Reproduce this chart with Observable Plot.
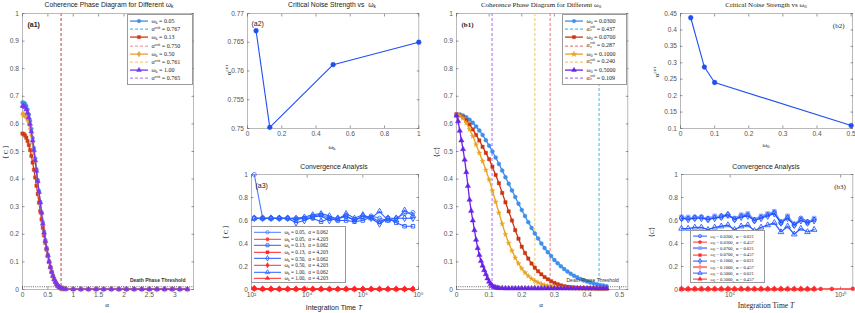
<!DOCTYPE html>
<html><head><meta charset="utf-8">
<script src="https://cdn.jsdelivr.net/npm/d3@7"></script>
<script src="https://cdn.jsdelivr.net/npm/@observablehq/plot@0.6"></script>
<style>
body{margin:0;background:#fff;}
#wrap{position:relative;width:855px;height:313px;overflow:hidden;background:#fff;font-family:"Liberation Sans",Arial,sans-serif;}
.t{position:absolute;white-space:nowrap;color:#222;line-height:1;}
.t sub,.lg sub{font-size:70%;vertical-align:-0.3em;line-height:0;}
.t sup,.lg sup{font-size:70%;vertical-align:0.5em;line-height:0;}
.lg{position:absolute;background:#fff;border:0.8px solid #9a9a9a;box-sizing:border-box;font-family:"Liberation Serif","DejaVu Serif",serif;color:#222;}
.lg .row{display:flex;align-items:center;white-space:nowrap;}
.lg svg{flex:none;}
.st{display:inline-flex;flex-direction:column;font-size:62%;line-height:0.95;vertical-align:middle;margin-left:0.5px;}
</style></head>
<body><div id="wrap"></div>
<script>
// ---------------- DATA ----------------
// (a1) coherence vs alpha for different omega_k
const a1Alpha = [0,0.025,0.05,0.075,0.1,0.125,0.15,0.175,0.2,0.225,0.25,0.275,0.3,0.325,0.35,0.375,0.4,0.425,0.45,0.475,0.5,0.525,0.55,0.575,0.6,0.625,0.65,0.675,0.7,0.725,0.75,0.775,0.8,
  0.85,1.0,1.15,1.3,1.45,1.6,1.75,1.9,2.05,2.2,2.35,2.5,2.65,2.8,2.95,3.1,3.25];
const a1Tail = [0.002,0.001,0.001,0.001,0.001,0.001,0.001,0.001,0.001,0.001,0.001,0.001,0.001,0.001,0.001,0.001,0.001];
const a1C005 = [0.678,0.677,0.673,0.665,0.652,0.634,0.611,0.582,0.549,0.513,0.475,0.436,0.397,0.357,0.318,0.280,0.244,0.211,0.180,0.152,0.126,0.103,0.083,0.065,0.050,0.037,0.027,0.019,0.013,0.009,0.006,0.004,0.003].concat(a1Tail);
const a1C013 = [0.565,0.563,0.558,0.550,0.538,0.523,0.505,0.484,0.460,0.434,0.406,0.376,0.346,0.315,0.284,0.254,0.224,0.196,0.169,0.144,0.121,0.099,0.080,0.063,0.048,0.036,0.026,0.018,0.012,0.008,0.005,0.004,0.003].concat(a1Tail);
const a1C050 = [0.635,0.634,0.630,0.624,0.614,0.600,0.582,0.559,0.531,0.499,0.464,0.427,0.389,0.350,0.312,0.275,0.240,0.207,0.177,0.149,0.124,0.101,0.081,0.064,0.049,0.036,0.026,0.018,0.012,0.008,0.005,0.004,0.003].concat(a1Tail);
const a1C100 = [0.665,0.664,0.660,0.652,0.640,0.623,0.600,0.572,0.540,0.505,0.468,0.430,0.392,0.353,0.315,0.278,0.238,0.206,0.176,0.149,0.124,0.101,0.081,0.064,0.049,0.037,0.027,0.019,0.013,0.009,0.006,0.004,0.003].concat(a1Tail);
const a1OmegaK = ["0.05","0.13","0.50","1.00"];
const a1Crit = [0.767,0.750,0.761,0.765];
const deathThreshold = 0.01;

// (a2) critical noise vs omega_k
const a2Omega = [0.05,0.13,0.5,1.0];
const a2Crit = [0.767,0.7502,0.7611,0.765];

// (a3) convergence
const a3T = [126,251,501,1000,1995,3981,7943,15849,31623,63096,125893,251189,501187,1000000,1995262,3981072,7943282,15848932,31622777,63095734];
const a3B1 = [1.00,0.62,0.62,0.62,0.62,0.62,0.62,0.64,0.65,0.62,0.62,0.63,0.61,0.62,0.64,0.62,0.60,0.62,0.66,0.67];
const a3R1 = [0.010,0.005,0.004,0.004,0.004,0.004,0.004,0.004,0.004,0.004,0.004,0.004,0.004,0.004,0.004,0.004,0.004,0.004,0.004,0.004];
const a3B2 = [0.62,0.62,0.62,0.62,0.62,0.61,0.62,0.62,0.59,0.62,0.60,0.60,0.59,0.60,0.63,0.59,0.62,0.58,0.55,0.55];
const a3R2 = [0.008,0.004,0.004,0.003,0.003,0.003,0.003,0.003,0.003,0.003,0.003,0.003,0.003,0.003,0.003,0.003,0.003,0.003,0.003,0.003];
const a3B3 = [0.62,0.62,0.62,0.62,0.62,0.58,0.60,0.63,0.64,0.60,0.62,0.64,0.60,0.64,0.62,0.57,0.62,0.62,0.62,0.62];
const a3R3 = [0.009,0.005,0.004,0.004,0.004,0.004,0.004,0.004,0.004,0.004,0.004,0.004,0.004,0.004,0.004,0.004,0.004,0.004,0.004,0.004];
const a3B4 = [0.62,0.62,0.62,0.62,0.62,0.62,0.63,0.65,0.66,0.64,0.61,0.66,0.62,0.65,0.62,0.68,0.60,0.60,0.69,0.64];
const a3R4 = [0.010,0.005,0.005,0.004,0.004,0.004,0.004,0.004,0.004,0.004,0.004,0.004,0.004,0.004,0.004,0.004,0.004,0.004,0.004,0.004];
const a3Alpha = ["0.062","4.203"];

// (b1) coherence vs alpha for different omega_0
const b1Alpha = [0,0.01,0.02,0.03,0.04,0.05,0.06,0.07,0.08,0.09,0.1,0.11,0.12,0.13,0.14,0.15,0.16,0.17,0.18,0.19,0.2,0.21,0.22,0.23,0.24,0.25,0.26,0.27,0.28,0.29,0.3,0.31,0.32,0.33,0.34,0.35,0.36,0.37,0.38,0.39,0.4,0.41,0.42,0.43,0.44,0.45,0.46];
const b1C003 = [0.635,0.634,0.630,0.624,0.615,0.604,0.591,0.576,0.560,0.541,0.521,0.500,0.478,0.455,0.431,0.407,0.383,0.359,0.335,0.311,0.288,0.266,0.244,0.223,0.203,0.185,0.167,0.150,0.135,0.121,0.107,0.095,0.084,0.074,0.065,0.057,0.050,0.044,0.038,0.033,0.029,0.025,0.022,0.019,0.016,0.014,0.012];
const b1C007 = [0.635,0.632,0.625,0.613,0.598,0.580,0.560,0.540,0.517,0.495,0.472,0.445,0.415,0.385,0.350,0.316,0.283,0.250,0.215,0.184,0.155,0.132,0.112,0.094,0.079,0.066,0.055,0.045,0.037,0.030,0.024,0.019,0.015,0.012,0.010,0.008,0.007,0.006,0.005,0.005,0.004,0.004,0.004,0.003,0.003,0.003,0.003];
const b1C010 = [0.635,0.630,0.620,0.603,0.580,0.555,0.525,0.495,0.465,0.433,0.398,0.358,0.318,0.278,0.238,0.200,0.168,0.140,0.115,0.094,0.076,0.061,0.049,0.039,0.031,0.025,0.020,0.016,0.013,0.011,0.009,0.008,0.007,0.006,0.005,0.005,0.004,0.004,0.004,0.003,0.003,0.003,0.003,0.003,0.003,0.003,0.003];
const b1AlphaP = [0,0.005,0.01,0.015,0.02,0.025,0.03,0.035,0.04,0.045,0.05,0.055,0.06,0.065,0.07,0.075,0.08,0.085,0.09,0.095,0.1,0.105,0.11,0.115,0.12,0.125,0.13,
  0.14,0.15,0.16,0.17,0.18,0.19,0.2,0.21,0.22,0.23,0.24,0.25,0.26,0.27,0.28,0.29,0.3,0.31,0.32,0.33,0.34,0.35,0.36,0.37,0.38,0.39,0.4,0.41,0.42,0.43,0.44,0.45,0.46];
const b1C050 = [0.630,0.610,0.575,0.540,0.508,0.470,0.425,0.375,0.325,0.285,0.250,0.215,0.180,0.150,0.125,0.103,0.086,0.070,0.055,0.040,0.028,0.020,0.013,0.009,0.007,0.006,0.005,
  0.005,0.004,0.004,0.004,0.004,0.004,0.004,0.004,0.004,0.004,0.004,0.004,0.004,0.004,0.004,0.004,0.004,0.004,0.004,0.004,0.004,0.004,0.004,0.004,0.004,0.004,0.004,0.004,0.004,0.004,0.004,0.004,0.004];
const b1Omega0 = ["0.0300","0.0700","0.1000","0.5000"];
const b1Crit = [0.437,0.287,0.240,0.109];

// (b2) critical noise vs omega_0
const b2Omega = [0.03,0.07,0.1,0.5];
const b2Crit = [0.437,0.287,0.240,0.109];

// (b3) convergence
const b3T = [631,1259,2512,5012,10000,19953,39811,79433,158489,316228,630957,1258925,2511886,5011872,10000000,19952623,39810717,79432823,158489319,316227766,630957344];
const b3TExtra = [1258925412,3981071706,35481338923];
const b3B1 = [0.62,0.62,0.63,0.63,0.61,0.63,0.64,0.65,0.61,0.64,0.65,0.60,0.63,0.65,0.67,0.58,0.63,0.56,0.62,0.59,0.61];
const b3R1 = [0.005,0.004,0.004,0.004,0.004,0.004,0.004,0.004,0.004,0.004,0.004,0.004,0.004,0.004,0.004,0.004,0.004,0.004,0.004,0.004,0.004];
const b3R1Extra = [0.005,0.005,0.006];
const b3B2 = [0.63,0.63,0.62,0.63,0.62,0.64,0.63,0.64,0.62,0.65,0.66,0.61,0.64,0.66,0.68,0.59,0.64,0.57,0.61,0.58,0.62];
const b3R2 = [0.004,0.004,0.004,0.004,0.004,0.004,0.004,0.004,0.004,0.004,0.004,0.004,0.004,0.004,0.004,0.004,0.004,0.004,0.004,0.004,0.004];
const b3B3 = [0.62,0.61,0.62,0.62,0.61,0.62,0.63,0.65,0.61,0.63,0.64,0.60,0.62,0.64,0.66,0.58,0.62,0.56,0.60,0.58,0.60];
const b3R3 = [0.004,0.004,0.004,0.004,0.004,0.004,0.004,0.004,0.004,0.004,0.004,0.004,0.004,0.004,0.004,0.004,0.004,0.004,0.004,0.004,0.004];
const b3B4 = [0.53,0.53,0.54,0.54,0.52,0.54,0.55,0.56,0.52,0.55,0.56,0.51,0.54,0.56,0.58,0.50,0.55,0.48,0.53,0.50,0.52];
const b3R4 = [0.004,0.004,0.004,0.004,0.004,0.004,0.004,0.004,0.004,0.004,0.004,0.004,0.004,0.004,0.004,0.004,0.004,0.004,0.004,0.004,0.004];
const b3Alpha = ["0.021","0.457"];

// tick values
const tick01 = [0,0.1,0.2,0.3,0.4,0.5,0.6,0.7,0.8,0.9,1];
const tick02 = [0,0.2,0.4,0.6,0.8,1];
const a1XTicks = [0,0.5,1,1.5,2,2.5,3];
const a2YTicks = [0.75,0.755,0.76,0.765,0.77];
const a3XTicks = [1e2,1e4,1e6,1e8];
const b1XTicks = [0,0.1,0.2,0.3,0.4,0.5];
const b2XTicks = [0,0.1,0.2,0.3,0.4,0.5];
const b2YTicks = [0.1,0.15,0.2,0.25,0.3,0.35,0.4,0.45];
const b3XTicks = [1e5,1e10];

// ---------------- HELPERS ----------------
const wrap = document.getElementById("wrap");
const SANS = "Liberation Sans, Arial, sans-serif";
const SERIF = "Liberation Serif, DejaVu Serif, serif";
const SUP = {"-":"⁻","0":"⁰","1":"¹","2":"²","3":"³","4":"⁴","5":"⁵","6":"⁶","7":"⁷","8":"⁸","9":"⁹"};
const pow10 = d => "10" + String(Math.round(Math.log10(d))).split("").map(c => SUP[c]).join("");
const plain = d => String(d);
const rows = (xs, ys) => xs.map((x, i) => ({x, y: ys[i]}));
const SYM = {circle: d3.symbolCircle, square: d3.symbolSquare, diamond: d3.symbolDiamond, triangle: d3.symbolTriangle, star: d3.symbolStar};

const M = {l: 26, r: 6, t: 6, b: 14};
function panel(frame, x, y, marks) {
  const [x0, y0, x1, y1] = frame;
  const svg = Plot.plot({
    width: (x1 - x0) + M.l + M.r, height: (y1 - y0) + M.t + M.b,
    marginLeft: M.l, marginRight: M.r, marginTop: M.t, marginBottom: M.b,
    style: {background: "transparent", overflow: "visible", fontFamily: SANS},
    x: {...x, label: null}, y: {...y, label: null},
    marks
  });
  svg.style.position = "absolute";
  svg.style.left = (x0 - M.l) + "px";
  svg.style.top = (y0 - M.t) + "px";
  wrap.appendChild(svg);
}
function axes(xTicks, yTicks, xFmt = plain, yFmt = plain) {
  const c = {tickSize: -2.5, color: "#555", fontSize: 6.6, label: null, strokeWidth: 0.6};
  return [
    Plot.frame({stroke: "#a8a8a8", strokeWidth: 0.8}),
    Plot.axisX(xTicks, {...c, anchor: "bottom", tickPadding: 5.5, tickFormat: xFmt}),
    Plot.axisX(xTicks, {...c, anchor: "top", tickFormat: () => ""}),
    Plot.axisY(yTicks, {...c, anchor: "left", tickPadding: 6, tickFormat: yFmt}),
    Plot.axisY(yTicks, {...c, anchor: "right", tickFormat: () => ""})
  ];
}
function series(data, color, sym, {r = 2, sw = 1.3, hollow = false} = {}) {
  return [
    Plot.line(data, {x: "x", y: "y", stroke: color, strokeWidth: sw}),
    Plot.dot(data, {x: "x", y: "y", symbol: sym, r, fill: hollow ? "none" : color, stroke: color, strokeWidth: hollow ? 0.9 : 0.4})
  ];
}
function tag(label, anchor, dx, dy, font, weight) {
  return Plot.text([label], {text: d => d, frameAnchor: anchor, dx, dy, fontSize: 7, fontFamily: font, fontWeight: weight, fill: "#222",
    textAnchor: anchor.endsWith("left") ? "start" : "end"});
}
function addText(html, x, y, style = {}, rotate = false) {
  const d = document.createElement("div");
  d.className = "t";
  d.innerHTML = html;
  Object.assign(d.style, {left: x + "px", top: y + "px", transform: "translate(-50%,-50%)" + (rotate ? " rotate(-90deg)" : "")}, style);
  wrap.appendChild(d);
}
function legend(box, rowH, sampleW, fontSize, items) {
  const [l, t, w, h] = box;
  const d = document.createElement("div");
  d.className = "lg";
  Object.assign(d.style, {left: l + "px", top: t + "px", width: w + "px", height: h + "px", fontSize: fontSize + "px", paddingTop: "2px", paddingLeft: "1px"});
  for (const it of items) {
    const row = document.createElement("div");
    row.className = "row";
    row.style.height = rowH + "px";
    const mid = rowH / 2;
    let s = `<svg width="${sampleW}" height="${rowH}"><line x1="1" x2="${sampleW - 2}" y1="${mid}" y2="${mid}" stroke="${it.color}" stroke-width="${it.sw || 1.2}" ${it.dash ? `stroke-dasharray="${it.dash}"` : ""}/>`;
    if (it.sym) {
      const p = d3.symbol(SYM[it.sym], Math.PI * (it.r || 1.8) ** 2)();
      s += `<path d="${p}" transform="translate(${(sampleW - 1) / 2},${mid})" fill="${it.hollow ? "none" : it.color}" stroke="${it.color}" stroke-width="${it.hollow ? 0.8 : 0.4}"/>`;
    }
    s += "</svg>";
    row.innerHTML = s + `<span style="margin-left:1.5px">${it.label}</span>`;
    d.appendChild(row);
  }
  wrap.appendChild(d);
}

// ---------------- (a1) ----------------
const a1Colors = ["#3f8ce6", "#d23c12", "#e9a136", "#7a36ef"];
const a1Dash = ["#52b9f0", "#f0a2a0", "#f4cd87", "#b290f4"];
const a1Syms = ["circle", "square", "diamond", "triangle"];
const a1Vals = [a1C005, a1C013, a1C050, a1C100];
panel([22, 13, 193, 289], {domain: [0, 3.37]}, {domain: [0, 1]}, [
  ...axes(a1XTicks, tick01),
  Plot.ruleY([deathThreshold], {stroke: "#222", strokeWidth: 0.7, strokeDasharray: "1,1.2"}),
  ...a1Crit.map((c, i) => Plot.ruleX([c], {stroke: a1Dash[i], strokeWidth: 1.1, strokeDasharray: "3,2"})),
  ...a1Vals.flatMap((v, i) => series(rows(a1Alpha, v), a1Colors[i], a1Syms[i], {r: 1.9})),
  Plot.text(["Death Phase Threshold"], {text: d => d, frameAnchor: "bottom-right", dx: -8, dy: -7.5, fontSize: 5, fontWeight: "bold", fill: "#333", textAnchor: "end"}),
  tag("(a1)", "top-left", 5, 9, SANS, "bold")
]);
addText("Coherence Phase Diagram for Different ω<sub>k</sub>", 109, 5, {fontSize: "6.8px"});
addText("α", 107, 305, {fontSize: "7px", fontFamily: SERIF});
addText("⟨ C ⟩", 6, 152, {fontSize: "7px", fontFamily: SERIF}, true);
legend([127, 14, 66, 71], 8.2, 21, 6,
  a1OmegaK.flatMap((k, i) => [
    {color: a1Colors[i], sym: a1Syms[i], sw: 1.3, label: `ω<sub>k</sub> = ${k}`},
    {color: a1Dash[i], dash: "3,2", label: `α<sup>crit</sup> = ${a1Crit[i].toFixed(3)}`}
  ]));

// ---------------- (a2) ----------------
panel([246.7, 13, 418, 128], {domain: [0, 1]}, {domain: [0.75, 0.77]}, [
  ...axes(tick02, a2YTicks),
  ...series(rows(a2Omega, a2Crit), "#1e4ff2", "circle", {r: 2.4, sw: 1.1}),
  tag("(a2)", "top-left", 4, 8, SANS, "normal")
]);
addText("Critical Noise Strength vs &nbsp;ω<sub>k</sub>", 332, 5, {fontSize: "6.8px"});
addText("ω<sub>k</sub>", 332, 147, {fontSize: "7px", fontFamily: SERIF});
addText("α<sup>crit</sup>", 229, 70, {fontSize: "7px", fontFamily: SERIF}, true);

// ---------------- (a3) ----------------
const a3Blue = ["#4b7bff", "#2c5dff", "#1f53ff", "#2a62ff"];
const a3Red = ["#ff3a3a", "#ff2020", "#ff2a2a", "#ff2424"];
const a3Syms = ["circle", "square", "diamond", "triangle"];
const a3BV = [a3B1, a3B2, a3B3, a3B4];
const a3RV = [a3R1, a3R2, a3R3, a3R4];
panel([251, 174, 418, 289], {type: "log", domain: [1e2, 1e8]}, {domain: [0, 1]}, [
  ...axes(a3XTicks, tick02, pow10),
  ...a3RV.flatMap((v, i) => series(rows(a3T, v), a3Red[i], a3Syms[i], {r: 2, sw: 1.3})),
  ...a3BV.flatMap((v, i) => series(rows(a3T, v), a3Blue[i], a3Syms[i], {r: 2, sw: 1.1, hollow: true})),
  tag("(a3)", "top-left", 4, 9, SANS, "normal")
]);
addText("Convergence Analysis", 334, 167, {fontSize: "6.8px"});
addText("Integration Time <i>T</i>", 334, 307, {fontSize: "7px"});
addText("⟨ C ⟩", 226, 232, {fontSize: "7px", fontFamily: SERIF}, true);
legend([251, 226, 95, 57], 6.6, 30, 5.2,
  a1OmegaK.flatMap((k, i) => [
    {color: a3Blue[i], sym: a3Syms[i], hollow: true, sw: 1, r: 1.7, label: `ω<sub>k</sub> = ${k}, &nbsp;α = ${a3Alpha[0]}`},
    {color: a3Red[i], sym: a3Syms[i], sw: 1, r: 1.7, label: `ω<sub>k</sub> = ${k}, &nbsp;α = ${a3Alpha[1]}`}
  ]));

// ---------------- (b1) ----------------
const b1Colors = ["#3e8fea", "#cc3512", "#e8a21e", "#6a22e6"];
const b1Dash = ["#46c0f4", "#e98381", "#f2c878", "#a77df2"];
const b1Syms = ["circle", "square", "star", "triangle"];
panel([455.7, 13, 627, 289], {domain: [0, 0.525]}, {domain: [0, 1]}, [
  ...axes(b1XTicks, tick01),
  Plot.ruleY([deathThreshold], {stroke: "#222", strokeWidth: 0.7, strokeDasharray: "1,1.2"}),
  ...b1Crit.map((c, i) => Plot.ruleX([c], {stroke: b1Dash[i], strokeWidth: 1.1, strokeDasharray: "3,2"})),
  ...series(rows(b1Alpha, b1C003), b1Colors[0], b1Syms[0], {r: 2}),
  ...series(rows(b1Alpha, b1C007), b1Colors[1], b1Syms[1], {r: 1.9}),
  ...series(rows(b1Alpha, b1C010), b1Colors[2], b1Syms[2], {r: 1.6}),
  ...series(rows(b1AlphaP, b1C050), b1Colors[3], b1Syms[3], {r: 2}),
  Plot.text(["Death Phase Threshold"], {text: d => d, frameAnchor: "bottom-right", dx: -9, dy: -7.5, fontSize: 5, fill: "#333", textAnchor: "end"}),
  tag("(b1)", "top-left", 5, 9, SERIF, "bold")
]);
addText("Coherence Phase Diagram for Different ω<sub>0</sub>", 541, 5, {fontSize: "7px", fontFamily: SERIF});
addText("α", 541, 305, {fontSize: "7px", fontFamily: SERIF});
addText("⟨<i>C</i>⟩", 437, 152, {fontSize: "7px", fontFamily: SERIF}, true);
legend([562, 14, 65, 71], 8.2, 21, 6,
  b1Omega0.flatMap((k, i) => [
    {color: b1Colors[i], sym: b1Syms[i], sw: 1.3, label: `ω<sub>0</sub> = ${k}`},
    {color: b1Dash[i], dash: "3,2", label: `α<span class="st"><span>crit</span><span>c</span></span> = ${b1Crit[i].toFixed(3)}`}
  ]));

// ---------------- (b2) ----------------
panel([680, 13, 852, 128], {domain: [0, 0.504]}, {domain: [0.1, 0.45]}, [
  ...axes(b2XTicks, b2YTicks),
  ...series(rows(b2Omega, b2Crit), "#1e4ff2", "circle", {r: 2.4, sw: 1.1}),
  tag("(b2)", "top-right", -8, 10, SERIF, "normal")
]);
addText("Critical Noise Strength vs ω<sub>0</sub>", 766, 5, {fontSize: "7px", fontFamily: SERIF});
addText("ω<sub>0</sub>", 766, 145, {fontSize: "7px", fontFamily: SERIF});
addText("α<sup>crit</sup>", 657, 72, {fontSize: "7px", fontFamily: SERIF}, true);

// ---------------- (b3) ----------------
const b3Blue = ["#2d5aff", "#7d9cff", "#1f52ff", "#2a5cff"];
const b3Red = ["#ff3030", "#ff2a2a", "#ff8080", "#ff2424"];
const b3Syms = ["circle", "square", "diamond", "triangle"];
const b3BV = [b3B1, b3B2, b3B3, b3B4];
const b3RV = [b3R1, b3R2, b3R3, b3R4];
panel([680.7, 174, 852, 289], {type: "log", domain: [10 ** 2.8, 10 ** 10.55]}, {domain: [0, 1]}, [
  ...axes(b3XTicks, tick02, pow10),
  ...series(rows(b3T.concat(b3TExtra), b3R1.concat(b3R1Extra)), b3Red[0], b3Syms[0], {r: 2, sw: 1.3}),
  ...b3RV.slice(1).flatMap((v, i) => series(rows(b3T, v), b3Red[i + 1], b3Syms[i + 1], {r: 2, sw: 1.3})),
  ...b3BV.flatMap((v, i) => series(rows(b3T, v), b3Blue[i], b3Syms[i], {r: 2.1, sw: 1.3, hollow: true})),
  tag("(b3)", "top-right", -7, 10, SERIF, "normal")
]);
addText("Convergence Analysis", 766, 167, {fontSize: "6.8px"});
addText("Integration Time <i>T</i>", 766, 306, {fontSize: "7.5px", fontFamily: SERIF});
addText("⟨<i>C</i>⟩", 652, 232, {fontSize: "7px", fontFamily: SERIF}, true);
legend([690, 230, 75, 53], 6.2, 17, 4.6,
  b1Omega0.flatMap((k, i) => [
    {color: b3Blue[i], sym: b3Syms[i], hollow: true, sw: i === 1 ? 2 : 1, r: 1.6, label: `ω<sub>0</sub> = ${k}, &nbsp;α = ${b3Alpha[0]}`},
    {color: b3Red[i], sym: b3Syms[i], sw: i === 2 ? 2 : 1, r: 1.6, label: `ω<sub>0</sub> = ${k}, &nbsp;α = ${b3Alpha[1]}`}
  ]));
</script>
</body></html>
